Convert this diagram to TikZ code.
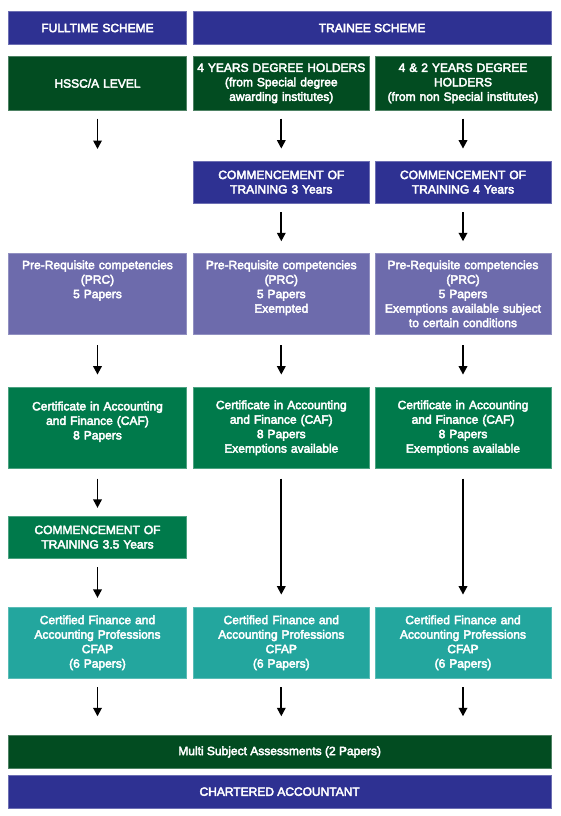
\documentclass[tikz,border=0pt]{standalone}
\usepackage{fontspec}
\setmainfont{Liberation Sans}[FakeBold=3.5]
\usetikzlibrary{arrows.meta,positioning}
\definecolor{hdrblue}{RGB}{46,49,146}
\definecolor{dkgreen}{RGB}{2,76,33}
\definecolor{prcpurple}{RGB}{109,107,172}
\definecolor{cafgreen}{RGB}{0,122,75}
\definecolor{cfapteal}{RGB}{35,166,158}
\tikzset{
  box/.style={rectangle, inner sep=0pt, text=white, align=center,
    font=\fontsize{12}{14.5}\selectfont, line width=0.8pt},
  colA/.style={box, minimum width=178.4pt, text width=174pt},
  colB/.style={box, minimum width=176pt, text width=174pt},
  bluebox/.style={fill=hdrblue, draw=hdrblue!70!white},
  dgbox/.style={fill=dkgreen, draw=dkgreen!70!white},
  prcbox/.style={fill=prcpurple, draw=prcpurple!75!white},
  cafbox/.style={fill=cafgreen, draw=cafgreen!70!white},
  cfapbox/.style={fill=cfapteal, draw=cfapteal!75!white},
  flow/.style={draw=black, line width=1.8pt, -{Triangle[width=8.5pt,length=8.5pt]}},
}
\begin{document}
\begin{tikzpicture}[x=1pt,y=-1pt]
\useasboundingbox (0,0) rectangle (560,816);
\fill[white] (0,0) rectangle (560,816);
% headers
\node[colA, bluebox, minimum height=32.6pt] (hfull) at (97.5,28) {FULLTIME SCHEME};
\node[box, bluebox, minimum width=357.7pt, minimum height=32.6pt] (htrain) at (372.15,28) {TRAINEE SCHEME};
% row 2
\node[colA, dgbox, minimum height=53.3pt] (a1) at (97.5,83.35) {HSSC/A LEVEL};
\node[colB, dgbox, minimum height=53.3pt] (b1) at (281.3,83.35) {4 YEARS DEGREE HOLDERS\\(from Special degree\\awarding institutes)};
\node[colB, dgbox, minimum height=53.3pt] (c1) at (463,83.35) {4 \& 2 YEARS DEGREE\\HOLDERS\\(from non Special institutes)};
% commencement
\node[colB, bluebox, minimum height=42.3pt] (b2) at (281.3,182.15) {COMMENCEMENT OF\\TRAINING 3 Years};
\node[colB, bluebox, minimum height=42.3pt] (c2) at (463,182.15) {COMMENCEMENT OF\\TRAINING 4 Years};
% PRC
\node[colA, prcbox, minimum height=81pt] (a3) at (97.5,293.8) {Pre-Requisite competencies\\(PRC)\\5 Papers\\~\\~};
\node[colB, prcbox, minimum height=81pt] (b3) at (281.3,293.8) {Pre-Requisite competencies\\(PRC)\\5 Papers\\Exempted\\~};
\node[colB, prcbox, minimum height=81pt] (c3) at (463,293.8) {Pre-Requisite competencies\\(PRC)\\5 Papers\\Exemptions available subject\\to certain conditions};
% CAF
\node[colA, cafbox, minimum height=81pt] (a4) at (97.5,427.8) {Certificate in Accounting\\and Finance (CAF)\\8 Papers\\~};
\node[colB, cafbox, minimum height=81pt] (b4) at (281.3,427.8) {Certificate in Accounting\\and Finance (CAF)\\8 Papers\\Exemptions available};
\node[colB, cafbox, minimum height=81pt] (c4) at (463,427.8) {Certificate in Accounting\\and Finance (CAF)\\8 Papers\\Exemptions available};
% commencement 3.5
\node[colA, cafbox, minimum height=42.3pt] (a5) at (97.5,537.15) {COMMENCEMENT OF\\TRAINING 3.5 Years};
% CFAP
\node[colA, cfapbox, minimum height=71pt] (a6) at (97.5,642.8) {Certified Finance and\\Accounting Professions\\CFAP\\(6 Papers)};
\node[colB, cfapbox, minimum height=71pt] (b6) at (281.3,642.8) {Certified Finance and\\Accounting Professions\\CFAP\\(6 Papers)};
\node[colB, cfapbox, minimum height=71pt] (c6) at (463,642.8) {Certified Finance and\\Accounting Professions\\CFAP\\(6 Papers)};
% bottom bars
\node[box, dgbox, minimum width=542.7pt, minimum height=32.6pt] (msa) at (279.65,752) {Multi Subject Assessments (2 Papers)};
\node[box, bluebox, minimum width=542.7pt, minimum height=33.3pt] (ca) at (279.65,791.65) {CHARTERED ACCOUNTANT};
% free end
\coordinate (a1end) at (97.5,149);
% arrows
\draw[flow, shorten <=8.3pt] (a1.south) -- (a1end);
\draw[flow, shorten <=8.3pt, shorten >=12pt] (b1) -- (b2);
\draw[flow, shorten <=8.3pt, shorten >=12pt] (c1) -- (c2);
\draw[flow, shorten <=8.4pt, shorten >=11.6pt] (b2) -- (b3);
\draw[flow, shorten <=8.4pt, shorten >=11.6pt] (c2) -- (c3);
\draw[flow, shorten <=10.7pt, shorten >=12.3pt] (a3) -- (a4);
\draw[flow, shorten <=10.7pt, shorten >=12.3pt] (b3) -- (b4);
\draw[flow, shorten <=10.7pt, shorten >=12.3pt] (c3) -- (c4);
\draw[flow, shorten <=10pt, shorten >=7.7pt] (a4) -- (a5);
\draw[flow, shorten <=8.4pt, shorten >=9pt] (a5) -- (a6);
\draw[flow, shorten <=10pt, shorten >=12.3pt] (b4) -- (b6);
\draw[flow, shorten <=10pt, shorten >=12.3pt] (c4) -- (c6);
\draw[flow, shorten <=8.4pt, shorten >=19pt] (a6.south) -- (a6.south |- msa.north);
\draw[flow, shorten <=8.4pt, shorten >=19pt] (b6.south) -- (b6.south |- msa.north);
\draw[flow, shorten <=8.4pt, shorten >=19pt] (c6.south) -- (c6.south |- msa.north);
\end{tikzpicture}
\end{document}
